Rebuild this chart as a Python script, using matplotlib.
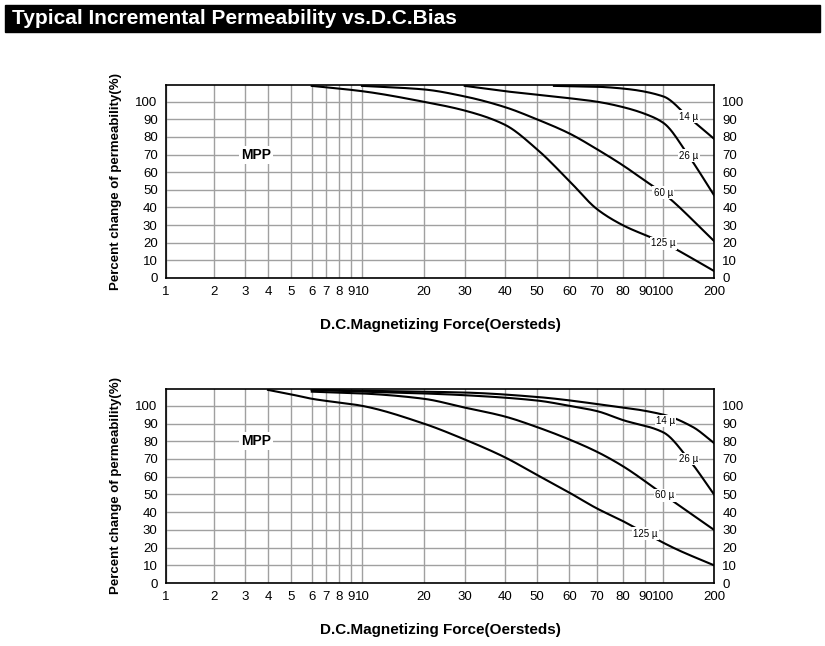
import numpy as np
import matplotlib
matplotlib.use("Agg")
import matplotlib.pyplot as plt
from matplotlib.patches import Rectangle

plt.rcParams['font.family'] = 'Liberation Sans'

# gridline values and their (distorted) positions on the original chart
grid_vals = [1,2,3,4,5,6,7,8,9,10,20,30,40,50,60,70,80,90,100,200]
grid_pos = [15,142,222,283,343,398,435,470,500,530,692,800,905,990,1075,1148,1215,1275,1322,1455]
xtick_labels = ['1','2','3','4','5','6','7','8','9','10','20','30','40','50','60','70','80','90','100','200']
yticks = [0,10,20,30,40,50,60,70,80,90,100]

# top chart curves
top_125_x = [6,10,20,30,40,50,60,70,80,100,200]
top_125_y = [109,106,100,95,87,73,55,39,30,20,4]
top_60_x = [10,20,30,40,50,60,70,80,90,100,200]
top_60_y = [109,107,103,97,90,82,73,64,55,48,21]
top_26_x = [30,40,50,60,70,80,90,100,142,200]
top_26_y = [109,106,104,102,100,97,93,88,69,47]
top_14_x = [55,70,80,100,142,200]
top_14_y = [109,108.5,107.5,103,91,79]
top_labels = [(142,91.5,'14 µ'),(142,69.4,'26 µ'),(100,48.4,'60 µ'),(100,19.7,'125 µ')]

# bottom chart curves
bot_125_x = [4,5,6,10,20,30,40,50,60,70,80,90,120,200]
bot_125_y = [109,106.5,104,100,90,81,71,61,51,42,35,28,19,10]
bot_60_x = [6,10,20,30,40,50,60,70,80,102,200]
bot_60_y = [108,107,104,99,94,88,81,74,66,49.4,30]
bot_26_x = [6,10,20,30,50,60,70,80,100,141,200]
bot_26_y = [109,108,107,106,103,100,97,92,85,70,50]
bot_14_x = [6,10,30,50,70,100,150,200]
bot_14_y = [109,108.5,107.5,105,101,95,88,79]
bot_labels = [(103,91.5,'14 µ'),(141,70,'26 µ'),(102,49.4,'60 µ'),(90,27.9,'125 µ')]

lv = np.log10(grid_vals)
gp = np.array(grid_pos, float)
def fwd(x):
    x = np.asarray(x, float)
    l = np.log10(np.clip(x, 1e-9, None))
    return np.interp(l, lv, gp)
def inv(p):
    p = np.asarray(p, float)
    return 10**np.interp(p, gp, lv)

def smooth(xs, ys, n=30):
    # monotone cubic (Fritsch-Carlson) in scale coordinates, for drawing only
    p = fwd(xs); y = np.asarray(ys, float)
    h = np.diff(p); d = np.diff(y) / h
    m = np.zeros_like(y)
    m[0], m[-1] = d[0], d[-1]
    for i in range(1, len(y)-1):
        if d[i-1]*d[i] <= 0:
            m[i] = 0
        else:
            w1 = 2*h[i] + h[i-1]; w2 = h[i] + 2*h[i-1]
            m[i] = (w1 + w2) / (w1/d[i-1] + w2/d[i])
    P, Y = [], []
    for i in range(len(h)):
        t = np.linspace(0, 1, n, endpoint=False)
        h00 = 2*t**3-3*t**2+1; h10 = t**3-2*t**2+t; h01 = -2*t**3+3*t**2; h11 = t**3-t**2
        P.append(p[i] + t*h[i])
        Y.append(h00*y[i] + h10*h[i]*m[i] + h01*y[i+1] + h11*h[i]*m[i+1])
    P.append([p[-1]]); Y.append([y[-1]])
    return inv(np.concatenate(P)), np.concatenate(Y)

fig = plt.figure(figsize=(8.25, 6.46), dpi=100)
fig.patches.append(Rectangle((5/825, 1-32/646), 815/825, 27/646, transform=fig.transFigure,
                             color='black', zorder=0))
fig.text(12/825, 1-19/646, 'Typical Incremental Permeability vs.D.C.Bias', color='white',
         fontsize=15, fontweight='bold', va='center', ha='left')

def make(ax_rect, curves, labels, mpp_y):
    ax = fig.add_axes(ax_rect)
    ax.set_xscale('function', functions=(fwd, inv))
    ax.set_xlim(1, 200)
    ax.set_ylim(0, 109.5)
    ax.set_xticks(grid_vals)
    ax.set_xticklabels(xtick_labels, fontsize=9.5)
    ax.xaxis.set_minor_locator(matplotlib.ticker.NullLocator())
    ax.set_yticks(yticks)
    ax.set_yticklabels([str(v) for v in yticks], fontsize=9.5)
    ax.tick_params(length=0, pad=6, right=True, labelright=True)
    ax.grid(True, color='#a0a0a0', lw=1)
    for s in ax.spines.values():
        s.set_linewidth(1.2)
    for xs, ys in curves:
        sx, sy = smooth(xs, ys)
        ax.plot(sx, sy, color='black', lw=1.5, zorder=3)
    for x, y, t in labels:
        ax.text(x, y, t, fontsize=7, ha='center', va='center', zorder=4,
                bbox=dict(facecolor='white', edgecolor='none', pad=1))
    ax.text(3.45, mpp_y, 'MPP', fontsize=10, fontweight='bold', ha='center', va='center', zorder=4,
            bbox=dict(facecolor='white', edgecolor='none', pad=1.5))
    ax.set_ylabel('Percent change of permeability(%)', fontsize=9.5, fontweight='bold', labelpad=10)
    ax.set_xlabel('D.C.Magnetizing Force(Oersteds)', fontsize=11, fontweight='bold', labelpad=14)
    return ax

make([166/825, 1-278/646, 548/825, 193/646],
     [(top_125_x, top_125_y), (top_60_x, top_60_y), (top_26_x, top_26_y), (top_14_x, top_14_y)],
     top_labels, 70)
make([166/825, 1-583/646, 548/825, 194/646],
     [(bot_125_x, bot_125_y), (bot_60_x, bot_60_y), (bot_26_x, bot_26_y), (bot_14_x, bot_14_y)],
     bot_labels, 80)

fig.savefig('out.png', dpi=100)
